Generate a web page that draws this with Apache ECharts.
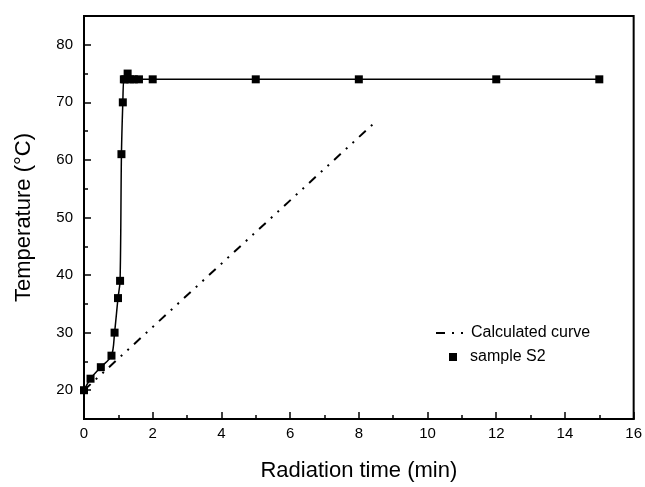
<!DOCTYPE html>
<html>
<head>
<meta charset="utf-8">
<script src="https://cdn.jsdelivr.net/npm/echarts@6/dist/echarts.min.js"></script>
<style>html,body{margin:0;padding:0;background:#fff;}#c{width:645px;height:487px;}</style>
</head>
<body>
<div id="c"></div>
<script>
var sampleTime = [0, 0.19, 0.49, 0.8, 0.89, 0.99, 1.05, 1.09, 1.13, 1.16, 1.2, 1.27, 1.35, 1.45, 1.6, 2, 5, 8, 12, 15];
var sampleTemp = [20, 22, 24, 26, 30, 36, 39, 61, 70, 74, 74, 75, 74, 74, 74, 74, 74, 74, 74, 74];
var calcTime = [0, 8.5];
var calcTemp = [20, 66.7];
var yMajorTicks = [20, 30, 40, 50, 60, 70, 80];
var yMinorTicks = [25, 35, 45, 55, 65, 75];
var xMin = 0, xMax = 16, xStep = 2;
var yMin = 15, yMax = 85;

function zip(a, b) { return a.map(function (v, i) { return [v, b[i]]; }); }

var font = 'Liberation Sans';
var chart = echarts.init(document.getElementById('c'));
chart.setOption({
  animation: false,
  backgroundColor: '#fff',
  grid: { left: 84, right: 6, top: 16, bottom: 62, show: true, borderColor: '#000', borderWidth: 2, backgroundColor: 'transparent' },
  legend: [
    { data: ['Calculated curve'], left: 430, top: 320, itemWidth: 30, itemHeight: 4, itemGap: 5,
      itemStyle: { color: 'rgba(0,0,0,0)', borderColor: 'rgba(0,0,0,0)', borderWidth: 0 },
      textStyle: { fontFamily: font, fontSize: 16, color: '#000' } },
    { data: ['sample S2'], left: 444, top: 344, itemWidth: 8, itemHeight: 8, icon: 'rect',
      textStyle: { fontFamily: font, fontSize: 16, color: '#000', padding: [0, 0, 0, 8] } }
  ],
  xAxis: {
    type: 'value', min: xMin, max: xMax, interval: xStep,
    name: 'Radiation time (min)', nameLocation: 'middle', nameGap: 41,
    nameTextStyle: { fontFamily: font, fontSize: 22, color: '#000' },
    axisLine: { show: true, lineStyle: { color: '#000', width: 2 } },
    axisTick: { show: true, inside: true, length: 7, lineStyle: { color: '#000', width: 1.5 } },
    minorTick: { show: true, splitNumber: 2, length: 4, lineStyle: { color: '#000', width: 1.5 } },
    axisLabel: { fontFamily: font, fontSize: 15, color: '#000', margin: 7 },
    splitLine: { show: false }
  },
  yAxis: [
    {
      type: 'value', min: yMin, max: yMax,
      name: 'Temperature (°C)', nameLocation: 'middle', nameGap: 49,
      nameTextStyle: { fontFamily: font, fontSize: 22, color: '#000' },
      axisLine: { show: true, lineStyle: { color: '#000', width: 2 } },
      axisTick: { show: true, inside: true, length: 7, customValues: yMajorTicks, lineStyle: { color: '#000', width: 1.5 } },
      axisLabel: { fontFamily: font, fontSize: 15, color: '#000', margin: 11, customValues: yMajorTicks },
      splitLine: { show: false }
    },
    {
      type: 'value', min: yMin, max: yMax, position: 'left',
      axisLine: { show: false },
      axisTick: { show: true, inside: true, length: 4, customValues: yMinorTicks, lineStyle: { color: '#000', width: 1.5 } },
      axisLabel: { show: false },
      splitLine: { show: false }
    }
  ],
  series: [
    {
      name: 'Calculated curve', type: 'line', data: zip(calcTime, calcTemp),
      symbol: 'none', lineStyle: { color: '#000', width: 2, type: [9, 7, 2, 7, 2, 7] },
      itemStyle: { color: '#000' }
    },
    {
      name: 'sample S2', type: 'line', data: zip(sampleTime, sampleTemp),
      smooth: 0.3, symbol: 'rect', symbolSize: 8,
      lineStyle: { color: '#000', width: 1.5 }, itemStyle: { color: '#000' }
    }
  ]
});
</script>
</body>
</html>
